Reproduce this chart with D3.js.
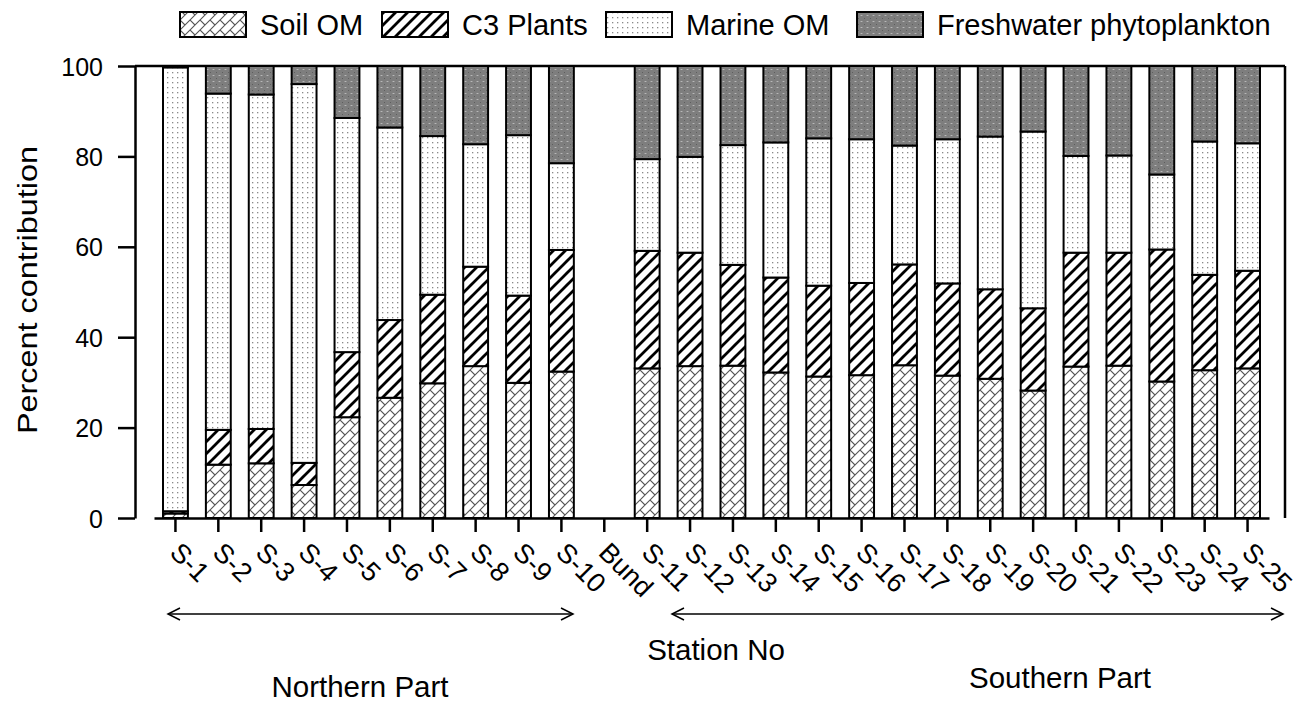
<html>
<head>
<meta charset="utf-8">
<title>Percent contribution by station</title>
<script src="https://d3js.org/d3.v7.min.js"></script>
<style>
body { margin: 0; background: #fff; }
text { font-family: "Liberation Sans", Arial, sans-serif; fill: #000; }
</style>
</head>
<body>
<div id="chart"></div>
<script>
// station order, Bund has no bar
var stations = ["S-1","S-2","S-3","S-4","S-5","S-6","S-7","S-8","S-9","S-10","Bund",
  "S-11","S-12","S-13","S-14","S-15","S-16","S-17","S-18","S-19","S-20","S-21","S-22","S-23","S-24","S-25"];

var soilOM     = [1.0,11.8,12.1,7.3,22.3,26.6,29.8,33.6,29.9,32.4,0, 33.1,33.6,33.7,32.2,31.3,31.6,33.8,31.5,30.8,28.2,33.5,33.7,30.2,32.7,33.1];
var c3Plants   = [0.5,7.7,7.6,4.9,14.4,17.2,19.6,22.0,19.3,26.9,0, 26.0,25.1,22.3,21.0,20.1,20.4,22.3,20.4,19.8,18.2,25.2,25.0,29.2,21.1,21.6];
var marineOM   = [98.2,74.4,74.0,83.8,51.8,42.6,35.1,27.1,35.5,19.2,0, 20.3,21.2,26.5,29.9,32.6,31.8,26.3,31.9,33.8,39.1,21.4,21.5,16.6,29.5,28.2];
var freshwater = [0.3,6.1,6.3,4.0,11.5,13.6,15.5,17.3,15.3,21.5,0, 20.6,20.1,17.5,16.9,16.0,16.2,17.6,16.2,15.6,14.5,19.9,19.8,24.0,16.7,17.1];

var seriesNames = ["Soil OM","C3 Plants","Marine OM","Freshwater phytoplankton"];
var yTicks = [0,20,40,60,80,100];

var width = 1302, height = 705;
var svg = d3.select("#chart").append("svg").attr("width", width).attr("height", height);

// ---- patterns
var defs = svg.append("defs");

var pSoil = defs.append("pattern").attr("id","pSoil").attr("patternUnits","userSpaceOnUse")
  .attr("width",10).attr("height",10);
pSoil.append("rect").attr("width",10).attr("height",10).attr("fill","#fff");
pSoil.append("path").attr("d","M0,10 L10,0 M-2,2 L2,-2 M8,12 L12,8 M0,0 L5,5")
  .attr("stroke","#555").attr("stroke-width",1.1).attr("fill","none");

var pC3 = defs.append("pattern").attr("id","pC3").attr("patternUnits","userSpaceOnUse")
  .attr("width",12).attr("height",12);
pC3.append("rect").attr("width",12).attr("height",12).attr("fill","#fff");
pC3.append("path").attr("d","M0,12 L12,0 M-3,3 L3,-3 M9,15 L15,9")
  .attr("stroke","#000").attr("stroke-width",2.8).attr("fill","none");

var pMar = defs.append("pattern").attr("id","pMar").attr("patternUnits","userSpaceOnUse")
  .attr("width",5).attr("height",5);
pMar.append("rect").attr("width",5).attr("height",5).attr("fill","#fff");
pMar.append("rect").attr("x",2).attr("y",2).attr("width",1.3).attr("height",1.3).attr("fill","#8a8a8a");

var pFw = defs.append("pattern").attr("id","pFw").attr("patternUnits","userSpaceOnUse")
  .attr("width",6).attr("height",6);
pFw.append("rect").attr("width",6).attr("height",6).attr("fill","#7e7e7e");
pFw.append("rect").attr("x",0).attr("y",0).attr("width",1).attr("height",1).attr("fill","#5e5e5e");
pFw.append("rect").attr("x",3).attr("y",3).attr("width",1).attr("height",1).attr("fill","#d0d0d0");
pFw.append("rect").attr("x",2).attr("y",3).attr("width",3).attr("height",0.6).attr("fill","#a8a8a8");

var fills = ["url(#pSoil)","url(#pC3)","url(#pMar)","url(#pFw)"];

// ---- scales
var x = d3.scaleBand().domain(stations).range([154,1269]).paddingInner(0.42).paddingOuter(0.21);
var y = d3.scaleLinear().domain([0,100]).range([518,66]);

var rows = stations.map(function(s,i){
  return {station:s, soil:soilOM[i], c3:c3Plants[i], marine:marineOM[i], fw:freshwater[i]};
});
var keys = ["soil","c3","marine","fw"];
var stacked = d3.stack().keys(keys)(rows);

// frame top and right
svg.append("line").attr("x1",135).attr("x2",1285).attr("y1",y(100)).attr("y2",y(100))
  .attr("stroke","#000").attr("stroke-width",2.5);
svg.append("line").attr("x1",1285).attr("x2",1285).attr("y1",y(100)).attr("y2",y(0))
  .attr("stroke","#000").attr("stroke-width",2.5);

// bars
stacked.forEach(function(layer, li){
  svg.append("g").selectAll("rect")
    .data(layer.filter(function(d){ return d.data.station !== "Bund"; }))
    .enter().append("rect")
    .attr("x", function(d){ return x(d.data.station); })
    .attr("width", x.bandwidth())
    .attr("y", function(d){ return y(d[1]); })
    .attr("height", function(d){ return y(d[0]) - y(d[1]); })
    .attr("fill", fills[li])
    .attr("stroke","#000").attr("stroke-width",2);
});

// axes
var yAxis = svg.append("g").attr("transform","translate(135,0)")
  .call(d3.axisLeft(y).tickValues(yTicks).tickSize(17).tickSizeOuter(0).tickPadding(15));
yAxis.selectAll("text").style("font-size","25px").attr("dy","0.36em");

var xAxis = svg.append("g").attr("transform","translate(0,518)")
  .call(d3.axisBottom(x).tickSize(14).tickSizeOuter(0).tickFormat(""));

svg.selectAll(".domain").attr("stroke","#000").attr("stroke-width",2.5);
svg.selectAll(".tick line").attr("stroke","#000").attr("stroke-width",2.5);

// rotated station labels
svg.append("g").selectAll("text").data(stations).enter().append("text")
  .attr("transform", function(d){ return "translate(" + (x(d) + x.bandwidth()/2 - 7) + ",554) rotate(45)"; })
  .style("font-size","27px")
  .text(function(d){ return d; });

// y title
svg.append("text")
  .attr("transform","translate(37,290) rotate(-90) scale(1.2,1)")
  .attr("text-anchor","middle")
  .style("font-size","27px")
  .text("Percent contribution");

// legend
var legX = [180, 382, 606, 857];
var legG = svg.append("g");
seriesNames.forEach(function(n, i){
  legG.append("rect").attr("x",legX[i]).attr("y",12).attr("width",66).attr("height",25)
    .attr("fill",fills[i]).attr("stroke","#000").attr("stroke-width",2);
  legG.append("text").attr("x",legX[i]+80).attr("y",35).style("font-size","29px").text(n);
});

// arrows for regions
function arrow(x1, x2, yy){
  var g = svg.append("g").attr("stroke","#000").attr("stroke-width",1.5).attr("fill","none");
  g.append("line").attr("x1",x1).attr("x2",x2).attr("y1",yy).attr("y2",yy);
  g.append("path").attr("d","M"+(x1+12)+","+(yy-6)+" L"+x1+","+yy+" L"+(x1+12)+","+(yy+6));
  g.append("path").attr("d","M"+(x2-12)+","+(yy-6)+" L"+x2+","+yy+" L"+(x2-12)+","+(yy+6));
}
arrow(168, 573, 614);
arrow(672, 1283, 614);

svg.append("text").attr("x",716).attr("y",660).attr("text-anchor","middle")
  .style("font-size","29.5px").text("Station No");
svg.append("text").attr("x",360).attr("y",697).attr("text-anchor","middle")
  .style("font-size","29.5px").text("Northern Part");
svg.append("text").attr("x",1060).attr("y",688).attr("text-anchor","middle")
  .style("font-size","29.5px").text("Southern Part");
</script>
</body>
</html>
